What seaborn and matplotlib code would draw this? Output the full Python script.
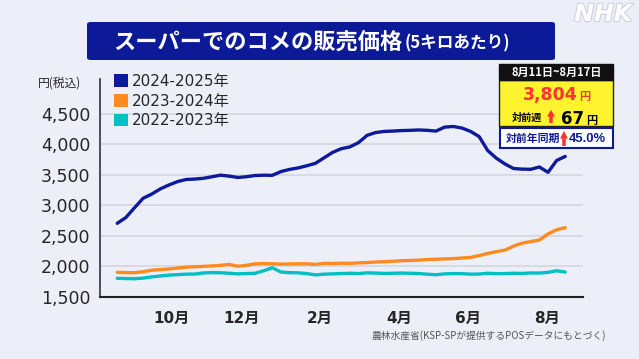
import numpy as np
import pandas as pd
import matplotlib
matplotlib.use('Agg')
import matplotlib.pyplot as plt
import matplotlib.patheffects as pe
from matplotlib.patches import Rectangle, FancyBboxPatch, Patch, Polygon
from matplotlib.ticker import FuncFormatter
import seaborn as sns

# weekly supermarket rice price (5kg, tax incl.), week of Aug 12 2024 ... Aug 11 2025
series_names = ['2024-2025年', '2023-2024年', '2022-2023年']
price_2425 = [2705, 2800, 2960, 3116, 3185, 3270, 3335, 3390, 3425, 3432,
              3444, 3470, 3496, 3480, 3458, 3470, 3490, 3495, 3493, 3555,
              3590, 3615, 3650, 3690, 3780, 3870, 3930, 3960, 4030, 4150,
              4196, 4214, 4220, 4228, 4232, 4238, 4232, 4220, 4285, 4295,
              4270, 4215, 4130, 3900, 3775, 3680, 3605, 3595, 3592, 3630,
              3542, 3737, 3804]
price_2324 = [1900, 1896, 1894, 1910, 1935, 1945, 1955, 1970, 1985, 1992,
              1998, 2005, 2015, 2030, 2000, 2015, 2040, 2045, 2040, 2035,
              2038, 2040, 2040, 2030, 2048, 2045, 2050, 2048, 2055, 2060,
              2070, 2075, 2082, 2090, 2095, 2100, 2110, 2115, 2120, 2125,
              2135, 2145, 2175, 2210, 2240, 2265, 2330, 2380, 2405, 2430,
              2530, 2600, 2633]
price_2223 = [1802, 1798, 1795, 1805, 1825, 1840, 1855, 1862, 1870, 1872,
              1890, 1895, 1893, 1885, 1875, 1880, 1885, 1925, 1975, 1905,
              1895, 1892, 1880, 1858, 1870, 1875, 1880, 1885, 1880, 1892,
              1888, 1882, 1885, 1888, 1885, 1880, 1870, 1860, 1875, 1880,
              1878, 1870, 1872, 1885, 1878, 1880, 1885, 1882, 1890, 1888,
              1900, 1925, 1905]
month_ticks = [6.3, 14.4, 23.5, 32.7, 40.7, 49.9]
month_labels = ['10月', '12月', '2月', '4月', '6月', '8月']
y_ticks = [1500, 2000, 2500, 3000, 3500, 4000, 4500]

period = '8月11日~8月17日'
latest = '3,804'
week_diff = '67'
year_diff = '45.0%'

BG = '#ECEEF8'
NAVY = '#0C1A98'
palette = {'2024-2025年': '#0E1A9C', '2023-2024年': '#FF8A1F', '2022-2023年': '#00C0C4'}
JP = 'Noto Sans CJK JP'

W, H = 639, 359
def fx(x):
    return x / W
def fy(y):
    return 1 - y / H

weeks = np.arange(len(price_2425))
df = pd.concat([
    pd.DataFrame({'week': weeks, 'price': p, 'series': n})
    for n, p in zip(series_names[::-1], [price_2223, price_2324, price_2425])
])

sns.set_style('white')
plt.rcParams['font.family'] = ['DejaVu Sans', JP]

fig = plt.figure(figsize=(6.39, 3.59), dpi=100, facecolor=BG)
ax = fig.add_axes([fx(100), fy(296.7), (583 - 100) / W, (296.7 - 79) / H])
ax.set_facecolor(BG)

sns.lineplot(data=df, x='week', y='price', hue='series', palette=palette,
             linewidth=2.4, legend=False, ax=ax)

ax.set_xlim(-2, 54.06)
ax.set_ylim(1500, 5075)
ax.set_yticks(y_ticks)
ax.yaxis.set_major_formatter(FuncFormatter(lambda v, p: f'{int(v):,}'))
ax.set_xticks(month_ticks)
ax.set_xticklabels(month_labels, fontweight='bold')
ax.yaxis.grid(True, color='#D3D6E0', lw=1.2)
ax.set_axisbelow(True)
for s in ['top', 'right']:
    ax.spines[s].set_visible(False)
ax.spines['left'].set_color('#333333')
ax.spines['left'].set_linewidth(1.2)
ax.spines['bottom'].set_color('#222222')
ax.spines['bottom'].set_linewidth(1.5)
ax.tick_params(axis='y', length=5, width=1.2, color='#333333', labelsize=12.5, pad=2)
ax.tick_params(axis='x', length=0, labelsize=11, pad=10)
ax.set_xlabel('')
ax.set_ylabel('')

handles = [Patch(facecolor=palette[n], edgecolor='none', label=n) for n in series_names]
ax.legend(handles=handles, loc='upper left', bbox_to_anchor=(fx(114), fy(74)),
          bbox_transform=fig.transFigure, frameon=False, handlelength=0.9,
          handleheight=0.9, handletextpad=0.3, labelspacing=0.3, fontsize=11,
          borderpad=0, borderaxespad=0)

# title bar
fig.patches.append(FancyBboxPatch((fx(87), fy(60)), (555 - 87) / W, (60 - 22) / H,
                                  boxstyle='round,pad=0,rounding_size=0.006',
                                  transform=fig.transFigure, fc=NAVY, ec='none'))
fig.text(fx(403), fy(42), 'スーパーでのコメの販売価格', ha='right', va='center',
         color='white', fontsize=16, fontweight='bold', family=[JP])
fig.text(fx(405), fy(43), '(5キロあたり)', ha='left', va='center',
         color='white', fontsize=12, fontweight='bold', family=[JP])
fig.text(fx(632), fy(14), 'NHK', ha='right', va='center', fontsize=17,
         fontweight='bold', style='italic', color='white',
         path_effects=[pe.withStroke(linewidth=1.5, foreground='#CDD1DE')])

fig.text(fx(38), fy(83), '円(税込)', ha='left', va='center', fontsize=8.5, family=[JP])
fig.text(fx(606), fy(336), '農林水産省(KSP-SPが提供するPOSデータにもとづく)', ha='right',
         va='center', fontsize=7, color='#555555', family=[JP])

# info box
def rect(x0, y0, x1, y1, **kw):
    fig.patches.append(Rectangle((fx(x0), fy(y1)), (x1 - x0) / W, (y1 - y0) / H,
                                 transform=fig.transFigure, **kw))

def arrow(x0, x1, y0, y1, color='#FF3030'):
    xc = (x0 + x1) / 2
    sw = (x1 - x0) * 0.22
    hb = y0 + (y1 - y0) * 0.5
    pts = [(xc, y0), (x1, hb), (xc + sw, hb), (xc + sw, y1), (xc - sw, y1), (xc - sw, hb), (x0, hb)]
    fig.patches.append(Polygon([(fx(a), fy(b)) for a, b in pts], closed=True,
                               transform=fig.transFigure, fc=color, ec='none'))

rect(499, 80, 613, 126, fc='#FFF22E', ec='#222222', lw=1)
rect(499, 64, 613, 80, fc='#111111', ec='#111111', lw=1)
rect(500, 128, 613, 148, fc='white', ec=NAVY, lw=1.5)

fig.text(fx(557), fy(72.5), period, ha='center', va='center', color='white',
         fontsize=8, fontweight='bold', family=[JP])
fig.text(fx(578), fy(100), latest, ha='right', va='baseline', color='#FF3333',
         fontsize=12.5, fontweight='bold')
fig.text(fx(579), fy(100), '円', ha='left', va='baseline', color='#FF3333',
         fontsize=8, fontweight='bold', family=[JP])
fig.text(fx(512), fy(118), '対前週', ha='left', va='center', color='black',
         fontsize=7.3, fontweight='bold', family=[JP])
arrow(547, 555, 110, 123)
fig.text(fx(584), fy(124), week_diff, ha='right', va='baseline', color='black',
         fontsize=12, fontweight='bold')
fig.text(fx(586), fy(124), '円', ha='left', va='baseline', color='black',
         fontsize=8, fontweight='bold', family=[JP])
fig.text(fx(506), fy(139), '対前年同期', ha='left', va='center', color=NAVY,
         fontsize=7.8, fontweight='bold', family=[JP])
arrow(560, 568, 131, 146)
fig.text(fx(569), fy(139), year_diff, ha='left', va='center', color=NAVY,
         fontsize=9.4, fontweight='bold', family=['Liberation Sans'])

fig.savefig('out.png', dpi=100, facecolor=BG)
